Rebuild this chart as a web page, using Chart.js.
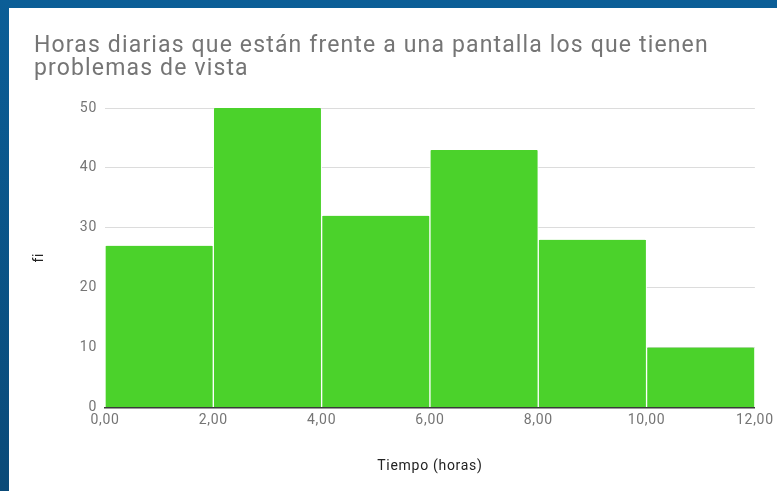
<!DOCTYPE html>
<html>
<head>
<meta charset="utf-8">
<script src="https://cdn.jsdelivr.net/npm/chart.js@4.4.0/dist/chart.umd.min.js"></script>
<style>
    html, body { margin: 0; padding: 0; }
    body {
        width: 777px; height: 491px; overflow: hidden;
        background: linear-gradient(#0b5e97, #0a4a78);
        position: relative;
    }
    #wrap {
        position: absolute; left: 9px; top: 8px;
        width: 768px; height: 483px; background: #fff;
    }
</style>
</head>
<body>
<div id="wrap"><canvas id="chart-hist" width="768" height="483"></canvas></div>
<script>
// Histogram data - horas frente a pantalla
const titleLines = ['Horas diarias que están frente a una pantalla los que tienen', 'problemas de vista'];
const binStarts = [0, 2, 4, 6, 8, 10];
const binWidth = 2;
const fi = [27, 50, 32, 43, 28, 10];
const yTicks = [0, 10, 20, 30, 40, 50];

const GREEN = '#4bd22b';
const GREY_TEXT = '#757575';

const points = binStarts.map((s, i) => ({ x: s + binWidth / 2, y: fi[i] }));

// Sheets-style title (wide tracking), drawn on the chart canvas
const sheetTitle = {
    id: 'sheetTitle',
    beforeDraw(chart) {
        chart.ctx.letterSpacing = '0.7px';
    },
    afterDraw(chart) {
        const ctx = chart.ctx;
        ctx.save();
        ctx.font = '23px Roboto';
        ctx.letterSpacing = '1.15px';
        ctx.fillStyle = GREY_TEXT;
        ctx.textAlign = 'left';
        ctx.textBaseline = 'alphabetic';
        titleLines.forEach((t, i) => ctx.fillText(t, 25, 44 + i * 23));
        ctx.restore();
        ctx.letterSpacing = '0px';
    }
};

const canvas = document.getElementById('chart-hist');
new Chart(canvas, {
    type: 'bar',
    data: {
        datasets: [{
            data: points,
            backgroundColor: GREEN,
            borderColor: '#ffffff',
            borderWidth: { left: 1, right: 1, top: 0 },
            borderSkipped: 'bottom',
            borderRadius: { topLeft: 2, topRight: 2 },
            barPercentage: 1,
            categoryPercentage: 1
        }]
    },
    plugins: [sheetTitle],
    options: {
        responsive: false,
        animation: false,
        layout: { padding: { left: 22, right: 21, top: 100, bottom: 16 } },
        plugins: {
            legend: { display: false },
            tooltip: { enabled: false },
            title: { display: false }
        },
        scales: {
            x: {
                type: 'linear',
                offset: false,
                min: 0,
                max: 12,
                ticks: {
                    stepSize: 2,
                    color: GREY_TEXT,
                    font: { family: 'Roboto', size: 14 },
                    padding: 5,
                    maxRotation: 0,
                    callback: v => v.toFixed(2).replace('.', ',')
                },
                grid: { display: false, drawTicks: false },
                border: { display: true, color: '#3a3a3a', width: 1.5 },
                title: {
                    display: true,
                    text: 'Tiempo (horas)',
                    color: '#222222',
                    font: { family: 'Roboto', size: 14 },
                    padding: { top: 24, bottom: 0 }
                }
            },
            y: {
                min: 0,
                max: 50,
                afterBuildTicks: axis => { axis.ticks = yTicks.map(v => ({ value: v })); },
                afterFit: axis => { axis.width = 74; },
                ticks: {
                    color: GREY_TEXT,
                    font: { family: 'Roboto', size: 14 },
                    padding: 8
                },
                grid: { color: '#dcdcdc', drawTicks: false },
                border: { display: false },
                title: {
                    display: true,
                    text: 'fi',
                    color: '#222222',
                    font: { family: 'Roboto', size: 14 },
                    padding: { top: 0, bottom: 0 }
                }
            }
        }
    }
});
</script>
</body>
</html>
